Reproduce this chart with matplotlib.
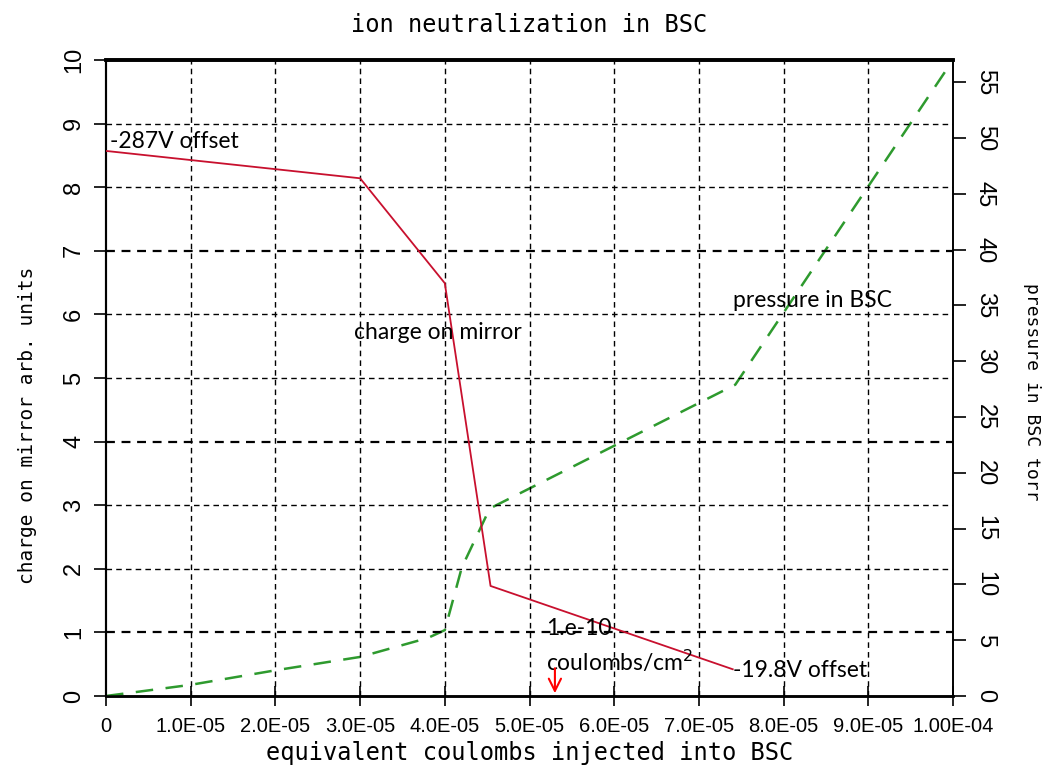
import numpy as np
import matplotlib
matplotlib.use('Agg')
import matplotlib.pyplot as plt

# data
charge_x = [0, 3.0e-5, 4.0e-5, 4.54e-5, 7.4e-5]
charge_y = [8.57, 8.14, 6.49, 1.73, 0.42]

press_x = [0, 1.0e-5, 2.0e-5, 3.0e-5, 3.8e-5, 4.0e-5, 4.2e-5, 4.53e-5, 7.43e-5, 1.0e-4]
press_y = [0, 1.0, 2.3, 3.5, 5.2, 5.9, 11.5, 16.8, 27.9, 57.0]

xticks = [0, 1e-5, 2e-5, 3e-5, 4e-5, 5e-5, 6e-5, 7e-5, 8e-5, 9e-5, 1e-4]
xticklabels = ['0', '1.0E-05', '2.0E-05', '3.0E-05', '4.0E-05', '5.0E-05',
               '6.0E-05', '7.0E-05', '8.0E-05', '9.0E-05', '1.00E-04']
yticks = list(range(0, 11))
y2ticks = list(range(0, 56, 5))

tickfont = 'Liberation Sans'
labfont = 'DejaVu Sans Mono'
txtfont = 'Lato'

fig = plt.figure(figsize=(10.53, 7.71), dpi=100)
ax = fig.add_axes([0.1007, 0.0973, 0.8043, 0.8249])
ax2 = ax.twinx()

ax.set_xlim(0, 1e-4)
ax.set_ylim(0, 10)
ax2.set_ylim(0, 57)

# grid
for x in xticks[1:-1]:
    ax.axvline(x, color='black', lw=1.0, ls=(0, (4, 3)), zorder=1)
for y in yticks[1:-1]:
    w = 1.6 if y in (1, 4, 7) else 1.0
    ax.axhline(y, color='black', lw=w, ls=(0, (4, 3)), zorder=1)

ax.plot(charge_x, charge_y, color='#c8102e', lw=1.3, zorder=3)
ax2.plot(press_x, press_y, color='#2e9a2e', lw=1.8, ls=(0, (7, 5)), zorder=3)

ax.set_xticks(xticks)
ax.set_xticklabels(xticklabels, fontfamily=tickfont, fontsize=14.5)
ax.set_yticks(yticks)
ax.set_yticklabels([str(v) for v in yticks], fontfamily=tickfont, fontsize=17,
                   rotation=90, va='center')
ax2.set_yticks(y2ticks)
ax2.set_yticklabels([str(v) for v in y2ticks], fontfamily=tickfont, fontsize=17,
                    rotation=-90, va='center')
ax.tick_params(axis='y', direction='out', length=9, width=1.2, pad=6)
ax2.tick_params(axis='y', direction='out', length=9, width=1.2, pad=6)
ax.tick_params(axis='x', direction='inout', length=14, width=1.2, pad=8)

for a in (ax, ax2):
    a.spines['top'].set_linewidth(2.6)
    a.spines['bottom'].set_linewidth(1.8)
    a.spines['left'].set_linewidth(1.5)
    a.spines['right'].set_linewidth(1.2)

ax.set_title('ion neutralization in BSC', fontfamily=labfont, fontsize=17, pad=20)
ax.set_xlabel('equivalent coulombs injected into BSC', fontfamily=labfont,
              fontsize=17, labelpad=4)
ax.set_ylabel('charge on mirror arb. units', fontfamily=labfont, fontsize=14)
ax.yaxis.set_label_coords(-0.082, 0.426)
ax2.set_ylabel('pressure in BSC torr', fontfamily=labfont, fontsize=13,
               rotation=-90, va='center')
ax2.yaxis.set_label_coords(1.093, 0.478)

ax.text(0.05e-5, 8.55, '-287V offset', fontfamily=txtfont, fontsize=16.5, va='bottom')
ax.text(2.93e-5, 5.55, 'charge on mirror', fontfamily=txtfont, fontsize=16.5, va='bottom')
ax2.text(7.4e-5, 34.5, 'pressure in BSC', fontfamily=txtfont, fontsize=16.5, va='bottom')
ax.text(5.2e-5, 0.9, '1.e-10', fontfamily=txtfont, fontsize=16.5, va='bottom')
ax.text(5.2e-5, 0.33, 'coulombs/cm$^2$', fontfamily=txtfont, fontsize=16.5, va='bottom')
ax.text(7.4e-5, 0.23, '-19.8V offset', fontfamily=txtfont, fontsize=16.5, va='bottom')

ax.annotate('', xy=(5.3e-5, 0.0), xytext=(5.3e-5, 0.48),
            arrowprops=dict(arrowstyle='->', color='red', lw=1.5, mutation_scale=22))

ax.set_zorder(ax2.get_zorder() + 1)
ax.patch.set_visible(False)

fig.savefig('out.png', dpi=100)
